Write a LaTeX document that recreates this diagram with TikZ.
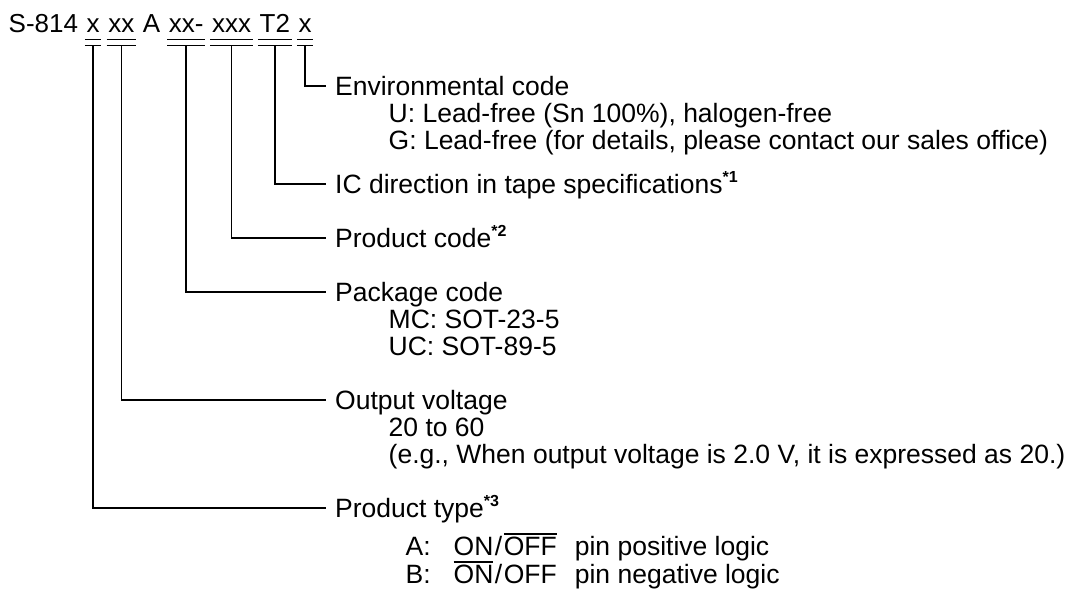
\documentclass[tikz,border=0pt]{standalone}
\usepackage{fontspec}
\setmainfont{Liberation Sans}
\usepackage{tikz}
\usetikzlibrary{positioning}
\newcommand{\ovl}[1]{\vbox{\hrule height 1.2pt\kern 2.5pt\hbox{#1}}}
\newcommand{\fnmark}[1]{\raisebox{11pt}{\fontsize{16}{16}\selectfont\bfseries #1}}

\begin{document}
\begin{tikzpicture}[x=1pt,y=-1pt,line width=1.4pt,
  every node/.style={font=\fontsize{26.5}{27}\selectfont,inner sep=0pt},
  part/.style={anchor=base west,inner xsep=1pt,inner ysep=0pt,text depth=7pt,
    font=\fontsize{26}{27}\selectfont},
  lbl/.style={anchor=base west,inner xsep=8.5pt,text height=19pt,text depth=0pt},
  sub/.style={anchor=base west}]
\useasboundingbox (0,0) rectangle (1074,603);
% model number
\node[part] (tS) at (7,32) {S-814};
\node[part,base right=5.2pt of tS] (tType) {x};
\node[part,base right=5.2pt of tType] (tVolt) {xx};
\node[part,base right=5.2pt of tVolt] (tA) {A};
\node[part,base right=5.2pt of tA] (tPkg) {xx-};
\node[part,base right=5.2pt of tPkg] (tProd) {xxx};
\node[part,base right=5.2pt of tProd] (tTape) {T2};
\node[part,base right=5.2pt of tTape] (tEnv) {x};
% labels
\node[lbl] (lEnv) at (326,95.5) {Environmental code};
\node[sub] (lEnvU) at (388,122.5) {U: Lead-free (Sn 100\%), halogen-free};
\node[sub] (lEnvG) at (388,149.5) {G: Lead-free (for details, please contact our sales office)};
\node[lbl] (lTape) at (326,193.5) {IC direction in tape specifications\fnmark{*1}};
\node[lbl] (lProd) at (326,247.5) {Product code\fnmark{*2}};
\node[lbl] (lPkg) at (326,301.5) {Package code};
\node[sub] (lPkgM) at (388,328.5) {MC: SOT-23-5};
\node[sub] (lPkgU) at (388,355.5) {UC: SOT-89-5};
\node[lbl] (lVolt) at (326,409.5) {Output voltage};
\node[sub] (lVoltR) at (388,436.5) {20 to 60};
\node[sub] (lVoltE) at (388,463.5) {(e.g., When output voltage is 2.0 V, it is expressed as 20.)};
\node[lbl] (lType) at (326,517.5) {Product type\fnmark{*3}};
\node[sub] (lTypeA) at (405,555.5) {A:\hspace{23pt}ON\kern1.5pt/\kern1.5pt\ovl{OFF}\hspace{18pt}pin positive logic};
\node[sub] (lTypeB) at (405,583.5) {B:\hspace{23pt}\ovl{ON}\kern1.5pt/\kern1.5pt OFF\hspace{18pt}pin negative logic};
% double underlines
\foreach \t in {tType,tVolt,tPkg,tProd,tTape,tEnv}{
  \draw (\t.south west) -- (\t.south east);
  \draw ([yshift=-6pt]\t.south west) -- ([yshift=-6pt]\t.south east);
}
% leaders
\foreach \t/\l in {tEnv/lEnv,tTape/lTape,tProd/lProd,tPkg/lPkg,tVolt/lVolt,tType/lType}
  \draw ([yshift=-6pt]\t.south) |- (\l.west);
\end{tikzpicture}
\end{document}
